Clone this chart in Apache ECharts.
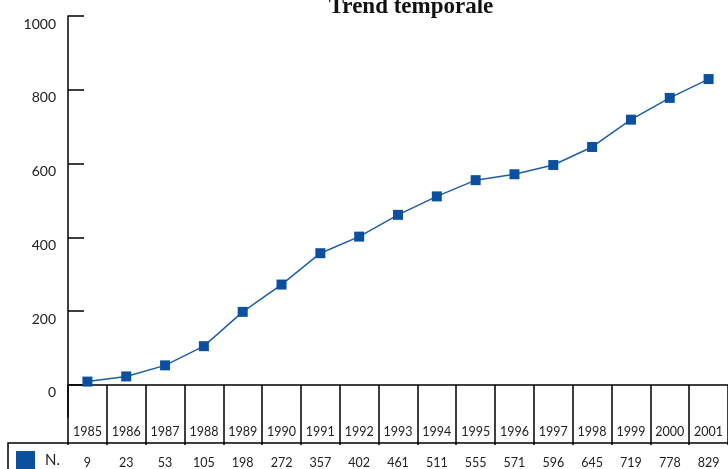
<!DOCTYPE html>
<html>
<head>
<meta charset="utf-8">
<title>Trend temporale</title>
<script src="https://cdn.jsdelivr.net/npm/echarts@6/dist/echarts.min.js"></script>
<style>
  html, body { margin: 0; padding: 0; background: #ffffff; }
  #chart { width: 728px; height: 469px; }
</style>
</head>
<body>
<div id="chart"></div>
<script>
// Yearly counts shown both as a line and in the table under the axis
const years = ['1985', '1986', '1987', '1988', '1989', '1990', '1991', '1992', '1993',
               '1994', '1995', '1996', '1997', '1998', '1999', '2000', '2001'];
const counts = [9, 23, 53, 105, 198, 272, 357, 402, 461, 511, 555, 571, 596, 645, 719, 778, 829];
const yTicks = [0, 200, 400, 600, 800, 1000];
const seriesName = 'N.';
const titleText = 'Trend temporale';

const blue = '#0b509e';
const ink = '#000000';
const textColor = '#222222';
const font = 'Lato, "Open Sans", sans-serif';

const chart = echarts.init(document.getElementById('chart'), null, { renderer: 'canvas' });

chart.setOption({
  animation: false,
  backgroundColor: '#ffffff',
  grid: { left: 68, right: -7, top: 16, bottom: 52, containLabel: false },
  legend: {
    data: [seriesName],
    left: 16,
    top: 451,
    padding: 0,
    icon: 'rect',
    itemWidth: 19,
    itemHeight: 19,
    selectedMode: false,
    textStyle: { color: textColor, fontFamily: font, fontSize: 15, padding: [6, 0, 0, 5] }
  },
  xAxis: [
    {
      // year row: labels and the cell dividers running down through the table
      type: 'category',
      data: years,
      position: 'bottom',
      offset: 0,
      boundaryGap: true,
      axisLine: { show: true, lineStyle: { color: ink, width: 1.5 } },
      axisTick: { show: true, inside: false, length: 60, alignWithLabel: false,
                  lineStyle: { color: ink, width: 1.5 } },
      axisLabel: { show: true, margin: 8, color: textColor, fontFamily: font, fontSize: 12.5,
                   interval: 0 },
      splitLine: { show: false }
    },
    {
      // value row of the table
      type: 'category',
      data: counts.map(String),
      position: 'bottom',
      offset: 26,
      boundaryGap: true,
      axisLine: { show: true, lineStyle: { color: ink, width: 1.5 } },
      axisTick: { show: false },
      axisLabel: { show: true, margin: 13, color: textColor, fontFamily: font, fontSize: 12.5,
                   interval: 0 },
      splitLine: { show: false }
    },
    {
      // short marks above the table at each column boundary
      type: 'category',
      data: years,
      position: 'bottom',
      offset: 0,
      boundaryGap: true,
      axisLine: { show: false },
      axisTick: { show: true, inside: true, length: 6, lineStyle: { color: ink, width: 1.5 } },
      axisLabel: { show: false },
      splitLine: { show: false }
    }
  ],
  yAxis: {
    type: 'value',
    min: -87,
    max: 1000,
    axisLine: { show: true, lineStyle: { color: ink, width: 1.5 } },
    axisTick: { show: true, inside: true, length: 16, customValues: yTicks,
                lineStyle: { color: ink, width: 1.5 } },
    axisLabel: { show: true, customValues: yTicks, margin: 12, color: textColor,
                 fontFamily: font, fontSize: 14, verticalAlign: 'top', padding: [1, 0, 0, 0],
                 formatter: (v) => String(v) },
    splitLine: { show: false }
  },
  series: [
    {
      name: seriesName,
      type: 'line',
      xAxisIndex: 0,
      data: counts,
      symbol: 'rect',
      symbolSize: 10,
      itemStyle: { color: blue },
      lineStyle: { color: '#1d5ea8', width: 1.5 },
      clip: false
    }
  ],
  graphic: [
    {
      type: 'text',
      style: {
        text: titleText,
        x: 411,
        y: 7,
        align: 'center',
        verticalAlign: 'middle',
        fill: '#111111',
        font: 'bold 23px "Liberation Serif", "Times New Roman", serif'
      }
    },
    {
      // border of the row header cell on the left of the value row
      type: 'polyline',
      shape: { points: [[8, 480], [8, 443], [68, 443]] },
      style: { stroke: ink, lineWidth: 1.5, fill: null }
    }
  ]
});
</script>
</body>
</html>
